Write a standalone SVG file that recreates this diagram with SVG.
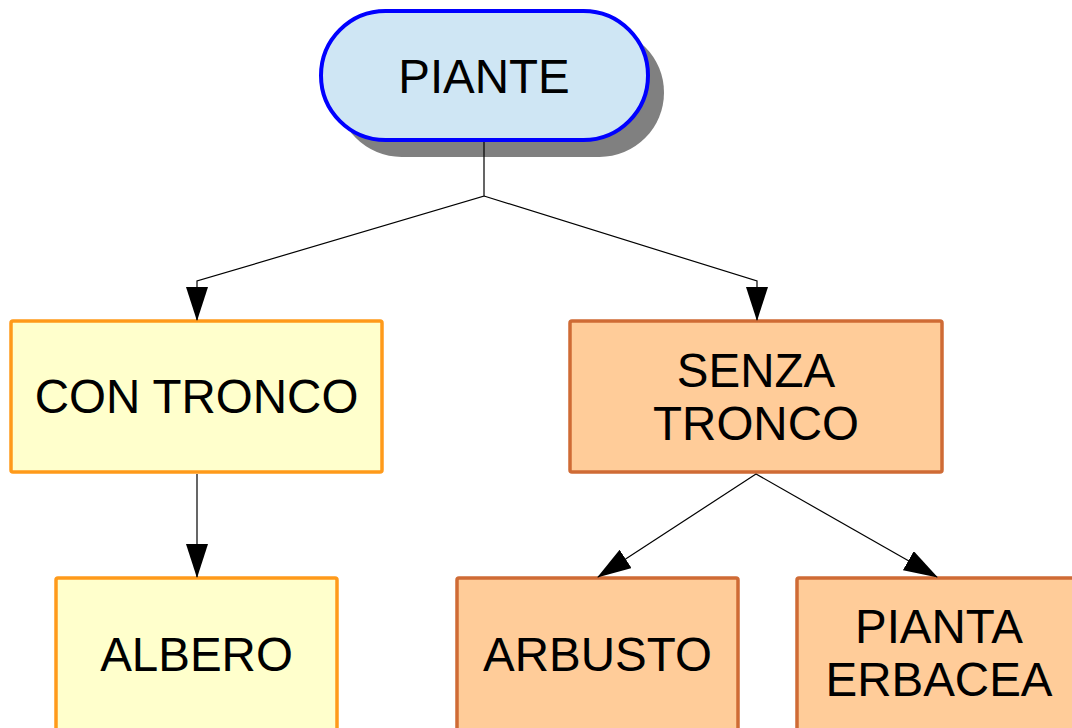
<svg xmlns="http://www.w3.org/2000/svg" width="1072" height="728" viewBox="0 0 1072 728">
<style>
text{font-family:"Liberation Sans",Arial,sans-serif;font-size:47.5px;fill:#000;text-anchor:middle}
.y{fill:#ffffcc;stroke:#ff9a1a;stroke-width:3.5}
.o{fill:#ffcc99;stroke:#cf6b35;stroke-width:3.5}
.c{fill:none;stroke:#000;stroke-width:1.2}
</style>
<defs>
<marker id="a" markerUnits="userSpaceOnUse" markerWidth="34" markerHeight="22" refX="33" refY="11" viewBox="0 0 34 22" orient="auto">
<path d="M0,0 L34,11 L0,22 Z" fill="#000"/>
</marker>
</defs>
<rect width="1072" height="728" fill="#fff"/>
<g id="piante">
<rect x="337" y="28" width="327" height="129" rx="64.5" fill="#808080"/>
<rect x="321" y="11" width="327" height="129" rx="64.5" fill="#cfe6f4" stroke="#0000ff" stroke-width="4"/>
<text x="484" y="93">PIANTE</text>
</g>
<g id="con-tronco">
<rect class="y" x="11" y="321" width="371" height="151" rx="2"/>
<text x="196.5" y="413">CON TRONCO</text>
</g>
<g id="senza-tronco">
<rect class="o" x="570" y="321" width="372" height="151" rx="2"/>
<text x="756" y="387">SENZA</text>
<text x="756" y="440">TRONCO</text>
</g>
<g id="albero">
<rect class="y" x="56" y="578" width="281" height="160" rx="2"/>
<text x="196.5" y="671">ALBERO</text>
</g>
<g id="arbusto">
<rect class="o" x="457" y="578" width="281" height="160" rx="2"/>
<text x="597.5" y="671">ARBUSTO</text>
</g>
<g id="pianta-erbacea">
<rect class="o" x="797" y="578" width="284" height="160" rx="2"/>
<text x="939" y="643">PIANTA</text>
<text x="939" y="696">ERBACEA</text>
</g>
<g id="connectors">
<path class="c" d="M484,142 V196 L197,281 V320" marker-end="url(#a)"/>
<path class="c" d="M484,196 L757,281 V320" marker-end="url(#a)"/>
<path class="c" d="M197,474 V577" marker-end="url(#a)"/>
<path class="c" d="M756,474 L598,577" marker-end="url(#a)"/>
<path class="c" d="M756,474 L937,577" marker-end="url(#a)"/>
</g>
</svg>
